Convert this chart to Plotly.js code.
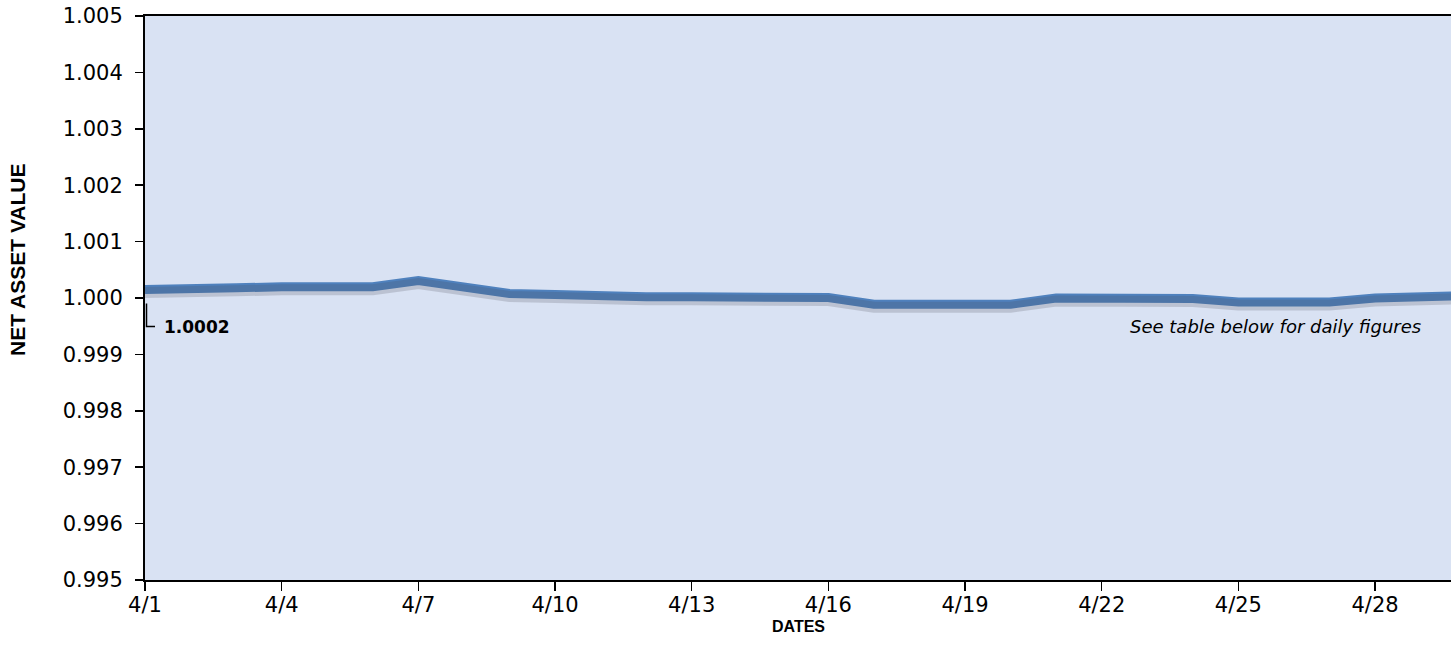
<!DOCTYPE html>
<html>
<head>
<meta charset="utf-8">
<script src="https://cdn.plot.ly/plotly-3.0.1.min.js"></script>
<style>
  html, body { margin: 0; padding: 0; background: #ffffff; }
  #chart { width: 1451px; height: 670px; }
</style>
</head>
<body>
<div id="chart"></div>
<script>
// ---- data ----
const dates = [
  '2025-04-01','2025-04-02','2025-04-03','2025-04-04','2025-04-05',
  '2025-04-06','2025-04-07','2025-04-08','2025-04-09','2025-04-10',
  '2025-04-11','2025-04-12','2025-04-13','2025-04-14','2025-04-15',
  '2025-04-16','2025-04-17','2025-04-18','2025-04-19','2025-04-20',
  '2025-04-21','2025-04-22','2025-04-23','2025-04-24','2025-04-25',
  '2025-04-26','2025-04-27','2025-04-28','2025-04-29','2025-04-30'
];
const navValues = [
  1.00015, 1.00015, 1.00018, 1.00020, 1.00020,
  1.00020, 1.00031, 1.00020, 1.00008, 1.00006,
  1.00002, 1.00002, 1.00002, 1.00001, 1.00000,
  1.00001, 0.99989, 0.99989, 0.99989, 0.99989,
  1.00000, 1.00000, 0.99999, 0.99999, 0.99993,
  0.99993, 0.99993, 1.00000, 1.00002, 1.00004
];
const startLabel = '1.0002';
const noteText = 'See table below for daily figures';
const yTitle = 'NET ASSET VALUE';
const xTitle = 'DATES';

// ---- styling ----
const yRange = [0.995, 1.005];
const plotHeightPx = 670 - 16 - 90;
const shadowShift = 3 * (yRange[1] - yRange[0]) / plotHeightPx;

const traces = [
  {
    x: dates, y: navValues, type: 'scatter', mode: 'lines',
    yaxis: 'y2', hoverinfo: 'skip',
    line: { color: 'rgba(70,70,80,0.20)', width: 11 }
  },
  {
    x: dates, y: navValues, type: 'scatter', mode: 'lines',
    line: { color: '#4F81BD', width: 9 }
  }
];

const tickFont = { family: 'DejaVu Sans', size: 21, color: '#000000' };

const layout = {
  width: 1451, height: 670,
  margin: { l: 145, r: 0, t: 16, b: 90 },
  paper_bgcolor: '#ffffff',
  plot_bgcolor: '#D9E2F3',
  showlegend: false,
  xaxis: {
    type: 'date',
    range: ['2025-04-01', '2025-04-29 16:00'],
    tick0: '2025-04-01', dtick: 3 * 86400000,
    tickformat: '%-m/%-d',
    ticks: 'outside', ticklen: 9, tickwidth: 1.5, tickcolor: '#000',
    showline: true, linecolor: '#000', linewidth: 2, mirror: true,
    showgrid: false, zeroline: false,
    tickfont: tickFont,
    ticklabelstandoff: -4,
    title: { text: '' }
  },
  yaxis: {
    range: yRange, dtick: 0.001, tick0: 0.995, tickformat: '.3f',
    ticks: 'outside', ticklen: 8, tickwidth: 1.5, tickcolor: '#000',
    showline: true, linecolor: '#000', linewidth: 2,
    showgrid: false, zeroline: false,
    tickfont: tickFont,
    ticklabelstandoff: 8,
    title: { text: '' }
  },
  yaxis2: {
    overlaying: 'y',
    range: [yRange[0] + shadowShift, yRange[1] + shadowShift],
    visible: false
  },
  shapes: [
    {
      type: 'path', xref: 'x', yref: 'y',
      xsizemode: 'pixel', ysizemode: 'pixel',
      xanchor: dates[0], yanchor: navValues[0],
      path: 'M1.5,-14 L1.5,-37 L10,-37',
      line: { color: '#000', width: 1.5 }
    }
  ],
  annotations: [
    {
      xref: 'x', yref: 'y', x: dates[0], y: navValues[0],
      text: '<b>' + startLabel + '</b>', showarrow: false,
      xanchor: 'left', yanchor: 'middle', xshift: 17, yshift: -37,
      font: { family: 'DejaVu Sans', size: 17, color: '#000' }
    },
    {
      xref: 'paper', yref: 'paper', x: 1, y: 0.4486,
      text: '<i>' + noteText + '</i>', showarrow: false,
      xanchor: 'right', yanchor: 'middle', xshift: -28,
      font: { family: 'DejaVu Sans', size: 18, color: '#000' }
    },
    {
      xref: 'paper', yref: 'paper', x: 0, y: (580 - 260) / 564,
      xshift: -128, textangle: -90,
      text: '<b>' + yTitle + '</b>', showarrow: false,
      xanchor: 'center', yanchor: 'middle',
      font: { family: 'Liberation Sans', size: 21, color: '#000' }
    },
    {
      xref: 'paper', yref: 'paper', x: 0.5, y: 0,
      yshift: -46, xshift: 0,
      text: '<b>' + xTitle + '</b>', showarrow: false,
      xanchor: 'center', yanchor: 'middle',
      font: { family: 'Liberation Sans', size: 16, color: '#000' }
    }
  ]
};

Plotly.newPlot('chart', traces, layout, { displayModeBar: false, staticPlot: true });
</script>
</body>
</html>
